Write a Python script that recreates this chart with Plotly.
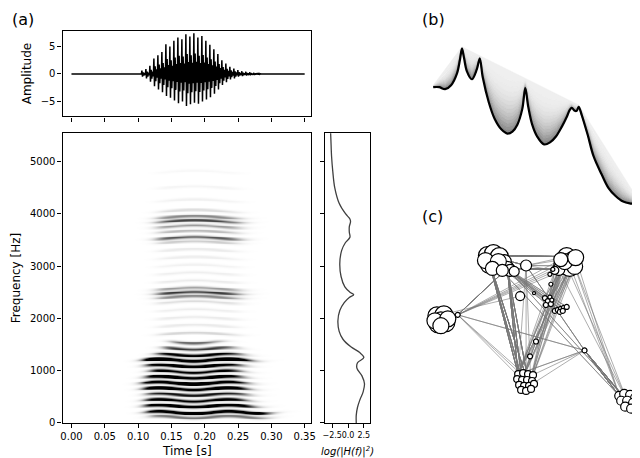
import numpy as np
import plotly.graph_objects as go

# ---------------- data ----------------
# waveform pulses (time s, positive peak, negative peak)
pulse_t = [0.105, 0.111, 0.117, 0.123, 0.129, 0.135, 0.141, 0.147, 0.153, 0.159, 0.165, 0.171, 0.177,
           0.183, 0.189, 0.195, 0.201, 0.207, 0.213, 0.219, 0.225, 0.231, 0.237, 0.243, 0.249, 0.255,
           0.261, 0.267, 0.273, 0.279]
pulse_pos = [0.6, 0.9, 1.5, 2.8, 3.4, 4.0, 5.4, 5.0, 6.0, 6.6, 6.3, 7.2, 6.8, 7.4, 6.6, 6.9, 6.0, 5.3,
             4.5, 3.6, 2.5, 1.9, 1.3, 1.0, 0.7, 0.5, 0.4, 0.3, 0.2, 0.15]
pulse_neg = [-0.5, -0.8, -1.4, -2.2, -2.8, -3.3, -4.0, -4.3, -4.8, -5.3, -5.0, -5.8, -5.5, -5.2, -5.4,
             -5.0, -4.6, -4.2, -3.6, -2.8, -2.0, -1.5, -1.0, -0.8, -0.5, -0.4, -0.3, -0.25, -0.2, -0.1]

# spectrogram bands
harm_f = [110, 200, 320, 430, 540, 650, 760, 870, 980, 1090, 1200, 1300, 1420, 1540]
harm_i = [0.4, 1.3, 1.0, 0.9, 0.7, 1.1, 1.3, 1.1, 0.9, 1.0, 1.3, 0.8, 0.6, 0.45]
harm_t0 = [0.12, 0.115, 0.112, 0.112, 0.115, 0.11, 0.11, 0.115, 0.12, 0.115, 0.11, 0.13, 0.14, 0.15]
harm_t1 = [0.29, 0.29, 0.27, 0.26, 0.26, 0.26, 0.255, 0.25, 0.25, 0.25, 0.265, 0.25, 0.24, 0.22]
form_f = [1700, 1850, 2000, 2150, 2300, 2400, 2480, 2560, 2700, 2850, 3000, 3150, 3300, 3450,
          3530, 3650, 3750, 3850, 3930, 4050, 4250, 4500, 4800]
form_i = [0.12, 0.06, 0.06, 0.05, 0.1, 0.35, 0.6, 0.3, 0.06, 0.05, 0.04, 0.05, 0.06, 0.15,
          0.5, 0.2, 0.3, 0.55, 0.35, 0.1, 0.04, 0.03, 0.02]
form_t0 = 0.13
form_t1 = 0.25

# log|H(f)|^2 envelope
env_f = [0, 150, 300, 450, 600, 750, 900, 1050, 1150, 1250, 1350, 1450, 1600, 1750, 1950, 2150, 2300,
         2400, 2450, 2500, 2600, 2800, 3050, 3300, 3450, 3550, 3650, 3750, 3850, 3900, 4000, 4200,
         4500, 4800, 5100, 5400, 5550]
env_v = [1.3, 1.3, 1.5, 1.9, 2.4, 2.6, 2.2, 1.4, 1.5, 2.5, 1.8, 0.5, -0.8, -1.4, -1.6, -1.3, -0.6,
         0.2, 0.9, 0.3, -0.5, -1.1, -1.3, -1.0, -0.4, 0.3, 0.2, 0.2, 0.4, 0.3, -0.4, -1.4,
         -2.1, -2.4, -2.6, -2.7, -2.75]

# panel (b) ridge line
ridge_x = [428, 434, 440, 446, 452, 455, 457, 459, 462, 467, 472, 475, 478, 484, 490, 497, 503, 508,
           513, 518, 521, 524, 528, 533, 540, 546, 552, 558, 563, 566, 568, 571, 573, 575, 578,
           584, 590, 598, 605, 612, 620, 628, 637]
ridge_y = [80, 80, 82, 78, 66, 52, 41, 50, 64, 72, 62, 51, 70, 95, 112, 123, 127, 125, 118, 102, 81,
           100, 118, 130, 138, 136, 130, 120, 110, 103, 101, 104, 104, 100, 108, 128, 150, 168, 182,
           190, 196, 198, 199]

# panel (c) network clusters: centre and member offsets (dx, dy, radius)
clA = (492, 258, [(-9, -7, 9), (-3, -9, 9), (3, -6, 9), (-7, 2, 9), (0, 3, 8), (5, 4, 8), (8, -1, 7),
                  (11, 6, 7), (14, 8, 6), (18, 9, 5), (-11, -2, 8), (2, -1, 8), (-4, 6, 7), (6, 8, 6)])
clB = (563, 259, [(0, -7, 9), (6, -3, 9), (-4, 2, 9), (3, 4, 9), (8, 3, 8), (-8, 6, 6), (-12, 7, 4),
                  (-2, -2, 8), (9, -6, 8), (-6, -4, 7)])
clC = (436, 316, [(-4, -4, 9), (3, -5, 9), (5, 3, 9), (-3, 4, 9), (0, 0, 8), (-6, 1, 8), (7, -1, 8),
                  (0, 6, 8)])
clD = (522, 377, [(-8, -6, 3.5), (-3, -7, 3.5), (2, -6, 3.5), (7, -5, 3.5), (-9, -1, 3.5), (-4, 0, 3.5),
                  (1, 0, 3.5), (6, 1, 3.5), (-7, 5, 3.5), (-2, 6, 3.5), (3, 6, 3.5), (8, 4, 3.5),
                  (-5, 10, 3.5), (0, 11, 3.5), (5, 9, 3.5)])
clE = (624, 398, [(-8, -5, 4.5), (-3, -7, 4.5), (3, -6, 4.5), (8, -3, 4.5), (-6, 0, 4.5), (0, 0, 4.5),
                  (6, 2, 4.5), (9, 6, 4.5), (-2, 6, 4.5), (4, 8, 4.5)])
clF = (544, 298, [(-3, -4, 2.5), (0, -1, 2.5), (3, 2, 2.5), (-2, 3, 2.5), (2, -5, 2), (4, -2, 2)])
clG = (557, 305, [(-6, 2, 2.5), (-3, 1, 2.5), (0, 0, 2.5), (3, -1, 2.5), (6, -2, 2.5), (-1, 3, 2.5),
                  (2, 2, 2.5)])
singles = [(522, 261, 5.5), (516, 292, 4.5), (581, 347, 2.5), (532, 338, 2.5), (526, 353, 2.5),
           (453, 311, 2.5), (547, 280, 2), (546, 270, 2), (549, 265, 2), (530, 289, 1.5)]
edges_spec = [("A", "D", 40), ("B", "D", 25), ("A", "G", 15), ("B", "F", 12), ("A", "B", 25),
              ("H", "E", 20), ("B", "E", 6), ("A", "E", 4), ("A", "S", 12), ("B", "S", 10),
              ("D", "S", 6), ("C", "S1", 1), ("H", "D", 4), ("H", "S", 5)]

# ---------------- figure ----------------
fig = go.Figure()
FONT = "DejaVu Sans"

# waveform
wt, wa = [0.0, pulse_t[0] - 0.002], [0, 0]
for t, p, n in zip(pulse_t, pulse_pos, pulse_neg):
    for dx, fac in [(0.0, 0), (0.0007, 1), (0.0016, -1), (0.0026, 0.5), (0.0036, -0.6),
                    (0.0045, 0.3), (0.0053, -0.3)]:
        wt.append(t + dx)
        wa.append(0 if fac == 0 else (p * fac if fac > 0 else -n * fac))
wt += [0.285, 0.35]
wa += [0, 0]
fig.add_trace(go.Scatter(x=wt, y=wa, mode="lines", line=dict(color="black", width=1.5),
                         xaxis="x", yaxis="y", showlegend=False))

# spectrogram
tt = np.arange(0, 0.36, 0.0015)
ff = np.arange(0, 5560, 15)
T, F = np.meshgrid(tt, ff)
Z = np.zeros_like(T)
def sig(x):
    return 1 / (1 + np.exp(-x))
for f0, a, t0, t1 in zip(harm_f, harm_i, harm_t0, harm_t1):
    Z += a * np.exp(-((F - f0 - 20 * np.sin(T * 60)) / 28) ** 2) * sig((T - t0) / 0.005) * sig((t1 - T) / 0.008)
for f0, a in zip(form_f, form_i):
    Z += a * np.exp(-((F - f0 - 25 * np.cos((T - 0.185) * 40)) / 28) ** 2) * sig((T - form_t0) / 0.006) * sig((form_t1 - T) / 0.008)
fig.add_trace(go.Heatmap(x=tt, y=ff, z=Z, colorscale=[[0, "white"], [1, "black"]], zmin=0, zmax=0.75,
                         showscale=False, xaxis="x2", yaxis="y2", hoverinfo="skip"))

# envelope
fig.add_trace(go.Scatter(x=env_v, y=env_f, mode="lines", line=dict(color="#404040", width=1.3, shape="spline"),
                         xaxis="x3", yaxis="y3", showlegend=False))

# panel b: stack of ridge copies
idx_peaks = [0, ridge_y.index(min(ridge_y)), 33, len(ridge_x) - 1]
base_x = [ridge_x[i] for i in idx_peaks]
base_y = [ridge_y[i] - 2 for i in idx_peaks]
line_y = np.interp(ridge_x, base_x, base_y)
N = 14
prev = None
for k in range(N, -1, -1):
    s = k / N
    cy = line_y + (np.array(ridge_y) - line_y) * (1 - s) ** 0.7 if k < N else line_y
    if prev is not None:
        g = int(240 - 105 * (1 - s) ** 2)
        fig.add_trace(go.Scatter(x=ridge_x + ridge_x[::-1], y=list(cy) + list(prev[::-1]), fill="toself",
                                 mode="lines", line=dict(width=0.5, color=f"rgb({g},{g},{g})"),
                                 fillcolor=f"rgb({g},{g},{g})", xaxis="x4", yaxis="y4",
                                 showlegend=False, hoverinfo="skip"))
    prev = cy
fig.add_trace(go.Scatter(x=ridge_x, y=ridge_y, mode="lines", line=dict(color="black", width=2.2, shape="spline"),
                         xaxis="x4", yaxis="y4", showlegend=False))

# panel c: network
groups = {}
for name, cl in zip("ABCDEFG", [clA, clB, clC, clD, clE, clF, clG]):
    cx, cy0, mem = cl
    groups[name] = [(cx + dx, cy0 + dy, r) for dx, dy, r in mem]
groups["S"] = singles
groups["S1"] = [singles[1]]
groups["H"] = [singles[2]]
ex, ey = [], []
for a, b, n in edges_spec:
    ga, gb = groups[a], groups[b]
    for i in range(n):
        p = ga[(i * 7) % len(ga)]
        q = gb[(i * 5) % len(gb)]
        ex += [p[0], q[0], None]
        ey += [p[1], q[1], None]
fig.add_trace(go.Scatter(x=ex, y=ey, mode="lines", line=dict(color="rgba(120,120,120,0.6)", width=1),
                         xaxis="x5", yaxis="y5", showlegend=False, hoverinfo="skip"))
nodes = []
for name in "ABCDEFG":
    nodes += groups[name]
nodes += singles
fig.add_trace(go.Scatter(x=[n[0] for n in nodes], y=[n[1] for n in nodes], mode="markers",
                         marker=dict(size=[2 * n[2] for n in nodes], color="white", opacity=1,
                                     line=dict(color="black", width=1.2)),
                         xaxis="x5", yaxis="y5", showlegend=False, hoverinfo="skip"))

ax = dict(showline=True, mirror=True, linecolor="black", linewidth=1.2, ticks="outside", ticklen=4,
          tickcolor="black", showgrid=False, zeroline=False, tickangle=0,
          tickfont=dict(size=10, family=FONT, color="black"))
xa = [0.083, 0.475]
ydom = [0.082, 0.723]
fig.update_layout(
    width=640, height=458, margin=dict(l=0, r=0, t=0, b=0), plot_bgcolor="white", paper_bgcolor="white",
    font=dict(family=FONT, color="black"),
    xaxis=dict(ax, domain=xa, range=[-0.0134, 0.359], tickvals=[0, 0.05, 0.1, 0.15, 0.2, 0.25, 0.3, 0.35],
               showticklabels=False, anchor="y"),
    yaxis=dict(ax, domain=[0.760, 0.950], range=[-7.7, 7.86], tickvals=[-5, 0, 5], anchor="x",
               title=dict(text="Amplitude", font=dict(size=12), standoff=6)),
    xaxis2=dict(ax, domain=xa, range=[-0.0134, 0.359], tickvals=[0, 0.05, 0.1, 0.15, 0.2, 0.25, 0.3, 0.35],
                tickformat=".2f", anchor="y2"),
    yaxis2=dict(ax, domain=ydom, range=[0, 5540], tickvals=[0, 1000, 2000, 3000, 4000, 5000],
                anchor="x2", title=dict(text="Frequency [Hz]", font=dict(size=12), standoff=6)),
    xaxis3=dict(ax, domain=[0.497, 0.569], range=[-3.7, 3.5], tickvals=[-2.5, 0, 2.5],
                ticktext=["\u22122.5", "0.0", "2.5"], anchor="y3", tickfont=dict(size=8, family=FONT)),
    yaxis3=dict(ax, domain=ydom, range=[0, 5540], tickvals=[0, 1000, 2000, 3000, 4000, 5000],
                showticklabels=False, anchor="x3"),
    xaxis4=dict(domain=[0.664, 1.0], range=[425, 640], visible=False, anchor="y4"),
    yaxis4=dict(domain=[0.552, 0.934], range=[205, 30], visible=False, anchor="x4"),
    xaxis5=dict(domain=[0.64, 1.0], range=[410, 640], visible=False, anchor="y5"),
    yaxis5=dict(domain=[0.083, 0.509], range=[420, 225], visible=False, anchor="x5"),
    annotations=[
        dict(text="(a)", x=0.0, y=1.0, xref="paper", yref="paper", xanchor="left", yanchor="top",
             showarrow=False, font=dict(size=16)),
        dict(text="(b)", x=0.647, y=1.0, xref="paper", yref="paper", xanchor="left", yanchor="top",
             showarrow=False, font=dict(size=16)),
        dict(text="(c)", x=0.647, y=0.565, xref="paper", yref="paper", xanchor="left", yanchor="top",
             showarrow=False, font=dict(size=16)),
        dict(text="Time [s]", x=0.279, y=0.0, xref="paper", yref="paper", xanchor="center", yanchor="bottom",
             showarrow=False, font=dict(size=12)),
        dict(text="<i>log(|H(f)|<sup>2</sup>)</i>", x=0.533, y=0.0, xref="paper", yref="paper",
             xanchor="center", yanchor="bottom", showarrow=False, font=dict(size=10)),
    ],
)
fig.write_html("out.html")
